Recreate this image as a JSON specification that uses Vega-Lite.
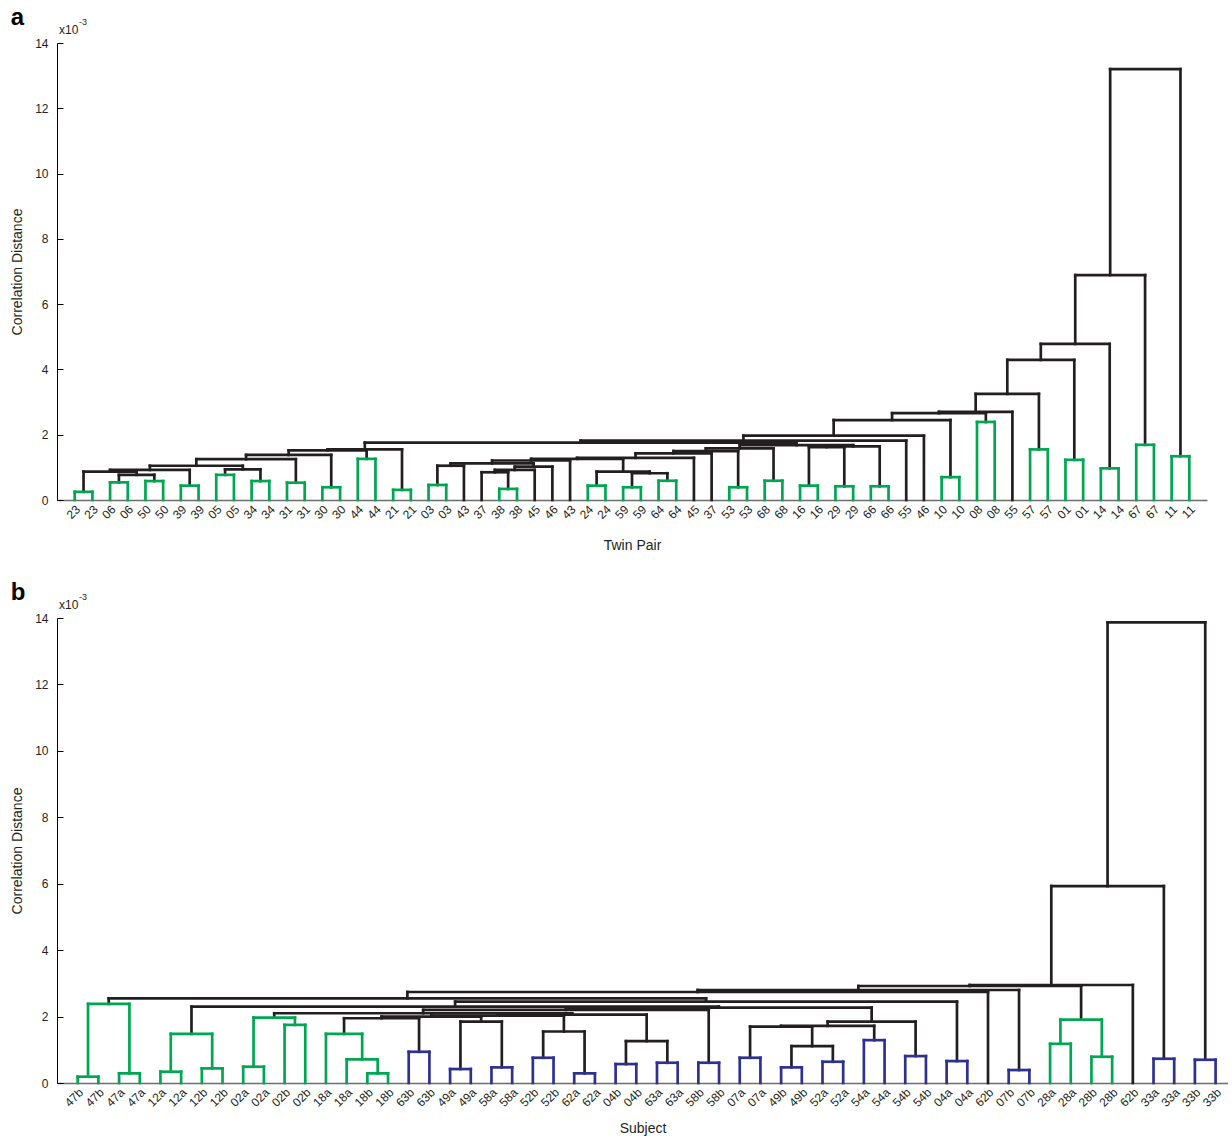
{
  "$schema": "https://vega.github.io/schema/vega-lite/v6.json",
  "background": "white",
  "padding": {"left": 10, "top": 6, "right": 0, "bottom": 0},
  "spacing": 28,
  "config": {
    "view": {"stroke": null},
    "font": "Liberation Sans",
    "title": {"font": "Liberation Sans"},
    "axis": {"labelFont": "Liberation Sans", "titleFont": "Liberation Sans", "labelColor": "#231F20", "titleColor": "#231F20", "titleFontWeight": "normal", "grid": false, "labelOverlap": false}
  },
  "vconcat": [
    {
      "title": {"text": "a", "anchor": "start", "frame": "bounds", "fontSize": 24, "fontWeight": "bold", "color": "#000000", "offset": -12},
      "width": 1150,
      "height": 457,
      "data": {"values": [
        {"xl":1,"yl":0,"xr":2,"yr":0,"h":0.25,"c":"g"},
        {"xl":3,"yl":0,"xr":4,"yr":0,"h":0.54,"c":"g"},
        {"xl":5,"yl":0,"xr":6,"yr":0,"h":0.58,"c":"g"},
        {"xl":7,"yl":0,"xr":8,"yr":0,"h":0.44,"c":"g"},
        {"xl":9,"yl":0,"xr":10,"yr":0,"h":0.77,"c":"g"},
        {"xl":11,"yl":0,"xr":12,"yr":0,"h":0.58,"c":"g"},
        {"xl":13,"yl":0,"xr":14,"yr":0,"h":0.53,"c":"g"},
        {"xl":15,"yl":0,"xr":16,"yr":0,"h":0.39,"c":"g"},
        {"xl":17,"yl":0,"xr":18,"yr":0,"h":1.26,"c":"g"},
        {"xl":19,"yl":0,"xr":20,"yr":0,"h":0.31,"c":"g"},
        {"xl":21,"yl":0,"xr":22,"yr":0,"h":0.46,"c":"g"},
        {"xl":25,"yl":0,"xr":26,"yr":0,"h":0.34,"c":"g"},
        {"xl":30,"yl":0,"xr":31,"yr":0,"h":0.44,"c":"g"},
        {"xl":32,"yl":0,"xr":33,"yr":0,"h":0.39,"c":"g"},
        {"xl":34,"yl":0,"xr":35,"yr":0,"h":0.59,"c":"g"},
        {"xl":38,"yl":0,"xr":39,"yr":0,"h":0.39,"c":"g"},
        {"xl":40,"yl":0,"xr":41,"yr":0,"h":0.59,"c":"g"},
        {"xl":42,"yl":0,"xr":43,"yr":0,"h":0.44,"c":"g"},
        {"xl":44,"yl":0,"xr":45,"yr":0,"h":0.42,"c":"g"},
        {"xl":46,"yl":0,"xr":47,"yr":0,"h":0.42,"c":"g"},
        {"xl":50,"yl":0,"xr":51,"yr":0,"h":0.70,"c":"g"},
        {"xl":52,"yl":0,"xr":53,"yr":0,"h":2.39,"c":"g"},
        {"xl":55,"yl":0,"xr":56,"yr":0,"h":1.55,"c":"g"},
        {"xl":57,"yl":0,"xr":58,"yr":0,"h":1.23,"c":"g"},
        {"xl":59,"yl":0,"xr":60,"yr":0,"h":0.97,"c":"g"},
        {"xl":61,"yl":0,"xr":62,"yr":0,"h":1.69,"c":"g"},
        {"xl":63,"yl":0,"xr":64,"yr":0,"h":1.34,"c":"g"},
        {"xl":3.5,"yl":0.54,"xr":5.5,"yr":0.58,"h":0.77,"c":"k"},
        {"xl":1.5,"yl":0.25,"xr":4.5,"yr":0.77,"h":0.87,"c":"k"},
        {"xl":3.0,"yl":0.87,"xr":7.5,"yr":0.44,"h":0.92,"c":"k"},
        {"xl":9.5,"yl":0.77,"xr":11.5,"yr":0.58,"h":0.94,"c":"k"},
        {"xl":5.25,"yl":0.92,"xr":10.5,"yr":0.94,"h":1.05,"c":"k"},
        {"xl":7.875,"yl":1.05,"xr":13.5,"yr":0.53,"h":1.25,"c":"k"},
        {"xl":10.6875,"yl":1.25,"xr":15.5,"yr":0.39,"h":1.38,"c":"k"},
        {"xl":13.094,"yl":1.38,"xr":17.5,"yr":1.26,"h":1.52,"c":"k"},
        {"xl":15.297,"yl":1.52,"xr":19.5,"yr":0.31,"h":1.55,"c":"k"},
        {"xl":21.5,"yl":0.46,"xr":23,"yr":0,"h":1.05,"c":"k"},
        {"xl":24,"yl":0,"xr":25.5,"yr":0.34,"h":0.85,"c":"k"},
        {"xl":24.75,"yl":0.85,"xr":27,"yr":0,"h":0.92,"c":"k"},
        {"xl":25.875,"yl":0.92,"xr":28,"yr":0,"h":1.02,"c":"k"},
        {"xl":22.25,"yl":1.05,"xr":26.9375,"yr":1.02,"h":1.12,"c":"k"},
        {"xl":24.594,"yl":1.12,"xr":29,"yr":0,"h":1.21,"c":"k"},
        {"xl":32.5,"yl":0.39,"xr":34.5,"yr":0.59,"h":0.82,"c":"k"},
        {"xl":30.5,"yl":0.44,"xr":33.5,"yr":0.82,"h":0.87,"c":"k"},
        {"xl":26.797,"yl":1.21,"xr":32.0,"yr":0.87,"h":1.26,"c":"k"},
        {"xl":29.398,"yl":1.26,"xr":36,"yr":0,"h":1.29,"c":"k"},
        {"xl":32.699,"yl":1.29,"xr":37,"yr":0,"h":1.43,"c":"k"},
        {"xl":34.85,"yl":1.43,"xr":38.5,"yr":0.39,"h":1.50,"c":"k"},
        {"xl":36.675,"yl":1.50,"xr":40.5,"yr":0.59,"h":1.58,"c":"k"},
        {"xl":42.5,"yl":0.44,"xr":44.5,"yr":0.42,"h":1.62,"c":"k"},
        {"xl":43.5,"yl":1.62,"xr":46.5,"yr":0.42,"h":1.64,"c":"k"},
        {"xl":38.587,"yl":1.58,"xr":45.0,"yr":1.64,"h":1.68,"c":"k"},
        {"xl":17.398,"yl":1.55,"xr":41.794,"yr":1.68,"h":1.76,"c":"k"},
        {"xl":29.596,"yl":1.76,"xr":48,"yr":0,"h":1.82,"c":"k"},
        {"xl":38.798,"yl":1.82,"xr":49,"yr":0,"h":1.97,"c":"k"},
        {"xl":43.899,"yl":1.97,"xr":50.5,"yr":0.70,"h":2.45,"c":"k"},
        {"xl":47.2,"yl":2.45,"xr":52.5,"yr":2.39,"h":2.66,"c":"k"},
        {"xl":49.85,"yl":2.66,"xr":54,"yr":0,"h":2.70,"c":"k"},
        {"xl":51.925,"yl":2.70,"xr":55.5,"yr":1.55,"h":3.25,"c":"k"},
        {"xl":53.7125,"yl":3.25,"xr":57.5,"yr":1.23,"h":4.29,"c":"k"},
        {"xl":55.606,"yl":4.29,"xr":59.5,"yr":0.97,"h":4.78,"c":"k"},
        {"xl":57.553,"yl":4.78,"xr":61.5,"yr":1.69,"h":6.89,"c":"k"},
        {"xl":59.527,"yl":6.89,"xr":63.5,"yr":1.34,"h":13.2,"c":"k"}
      ]},
      "layer": [
        {
          "mark": {"type": "rule", "strokeWidth": 2.7, "strokeCap": "square"},
          "encoding": {
            "x": {"field": "xl", "type": "quantitative", "title": "Twin Pair",
              "scale": {"domain": [0, 65], "nice": false, "zero": false},
              "axis": {"values": [1,2,3,4,5,6,7,8,9,10,11,12,13,14,15,16,17,18,19,20,21,22,23,24,25,26,27,28,29,30,31,32,33,34,35,36,37,38,39,40,41,42,43,44,45,46,47,48,49,50,51,52,53,54,55,56,57,58,59,60,61,62,63,64],
                "tickCount": 100,
                "labelExpr": "['23','23','06','06','50','50','39','39','05','05','34','34','31','31','30','30','44','44','21','21','03','03','43','37','38','38','45','46','43','24','24','59','59','64','64','45','37','53','53','68','68','16','16','29','29','66','66','55','46','10','10','08','08','55','57','57','01','01','14','14','67','67','11','11'][datum.value-1]",
                "labelAngle": -45, "labelAlign": "right", "labelBaseline": "middle", "labelPadding": 7, "labelOffset": 3, "labelFontSize": 12, "labelOverlap": false, "ticks": false, "domainColor": "#6d6d6d", "domainWidth": 1.5, "titleFontSize": 14, "titlePadding": 18}},
            "y": {"field": "yl", "type": "quantitative", "title": "Correlation Distance",
              "scale": {"domain": [0, 14], "nice": false},
              "axis": {"values": [0,2,4,6,8,10,12,14], "tickSize": -6, "tickColor": "#000000", "domainColor": "#000000", "labelFontSize": 12, "labelPadding": 15, "titleFontSize": 14, "titlePadding": 10, "labelOverlap": false}},
            "y2": {"field": "h"},
            "color": {"field": "c", "type": "nominal", "legend": null, "scale": {"domain": ["g", "b", "k"], "range": ["#00A651", "#2E3192", "#231F20"]}}
          }
        },
        {
          "mark": {"type": "rule", "strokeWidth": 2.7, "strokeCap": "square"},
          "encoding": {
            "x": {"field": "xr", "type": "quantitative", "title": "Twin Pair", "axis": {"labelOverlap": false}},
            "y": {"field": "yr", "type": "quantitative", "title": "Correlation Distance", "axis": {"labelOverlap": false}},
            "y2": {"field": "h"},
            "color": {"field": "c", "type": "nominal", "legend": null}
          }
        },
        {
          "mark": {"type": "rule", "strokeWidth": 2.7, "strokeCap": "square"},
          "encoding": {
            "x": {"field": "xl", "type": "quantitative", "title": "Twin Pair", "axis": {"labelOverlap": false}},
            "x2": {"field": "xr"},
            "y": {"field": "h", "type": "quantitative", "title": "Correlation Distance", "axis": {"labelOverlap": false}},
            "color": {"field": "c", "type": "nominal", "legend": null}
          }
        },
        {
          "data": {"values": [{"t": "x10"}]},
          "mark": {"type": "text", "align": "left", "baseline": "alphabetic", "dx": 2, "dy": -9, "fontSize": 12, "color": "#231F20"},
          "encoding": {"x": {"datum": 0, "type": "quantitative"}, "y": {"datum": 14, "type": "quantitative"}, "text": {"field": "t"}}
        },
        {
          "data": {"values": [{"t": "-3"}]},
          "mark": {"type": "text", "align": "left", "baseline": "alphabetic", "dx": 22, "dy": -18, "fontSize": 9, "color": "#231F20"},
          "encoding": {"x": {"datum": 0, "type": "quantitative"}, "y": {"datum": 14, "type": "quantitative"}, "text": {"field": "t"}}
        }
      ]
    },
    {
      "title": {"text": "b", "anchor": "start", "frame": "bounds", "fontSize": 24, "fontWeight": "bold", "color": "#000000", "offset": -12},
      "width": 1171,
      "height": 465,
      "data": {"values": [
        {"xl":1,"yl":0,"xr":2,"yr":0,"h":0.19,"c":"g"},
        {"xl":3,"yl":0,"xr":4,"yr":0,"h":0.29,"c":"g"},
        {"xl":1.5,"yl":0.19,"xr":3.5,"yr":0.29,"h":2.38,"c":"g"},
        {"xl":5,"yl":0,"xr":6,"yr":0,"h":0.34,"c":"g"},
        {"xl":7,"yl":0,"xr":8,"yr":0,"h":0.44,"c":"g"},
        {"xl":5.5,"yl":0.34,"xr":7.5,"yr":0.44,"h":1.48,"c":"g"},
        {"xl":9,"yl":0,"xr":10,"yr":0,"h":0.49,"c":"g"},
        {"xl":11,"yl":0,"xr":12,"yr":0,"h":1.75,"c":"g"},
        {"xl":9.5,"yl":0.49,"xr":11.5,"yr":1.75,"h":1.97,"c":"g"},
        {"xl":15,"yl":0,"xr":16,"yr":0,"h":0.29,"c":"g"},
        {"xl":14,"yl":0,"xr":15.5,"yr":0.29,"h":0.71,"c":"g"},
        {"xl":13,"yl":0,"xr":14.75,"yr":0.71,"h":1.48,"c":"g"},
        {"xl":48,"yl":0,"xr":49,"yr":0,"h":1.18,"c":"g"},
        {"xl":50,"yl":0,"xr":51,"yr":0,"h":0.79,"c":"g"},
        {"xl":48.5,"yl":1.18,"xr":50.5,"yr":0.79,"h":1.91,"c":"g"},
        {"xl":17,"yl":0,"xr":18,"yr":0,"h":0.94,"c":"b"},
        {"xl":19,"yl":0,"xr":20,"yr":0,"h":0.42,"c":"b"},
        {"xl":21,"yl":0,"xr":22,"yr":0,"h":0.47,"c":"b"},
        {"xl":23,"yl":0,"xr":24,"yr":0,"h":0.76,"c":"b"},
        {"xl":25,"yl":0,"xr":26,"yr":0,"h":0.29,"c":"b"},
        {"xl":27,"yl":0,"xr":28,"yr":0,"h":0.57,"c":"b"},
        {"xl":29,"yl":0,"xr":30,"yr":0,"h":0.61,"c":"b"},
        {"xl":31,"yl":0,"xr":32,"yr":0,"h":0.61,"c":"b"},
        {"xl":33,"yl":0,"xr":34,"yr":0,"h":0.76,"c":"b"},
        {"xl":35,"yl":0,"xr":36,"yr":0,"h":0.47,"c":"b"},
        {"xl":37,"yl":0,"xr":38,"yr":0,"h":0.64,"c":"b"},
        {"xl":39,"yl":0,"xr":40,"yr":0,"h":1.29,"c":"b"},
        {"xl":41,"yl":0,"xr":42,"yr":0,"h":0.81,"c":"b"},
        {"xl":43,"yl":0,"xr":44,"yr":0,"h":0.66,"c":"b"},
        {"xl":46,"yl":0,"xr":47,"yr":0,"h":0.39,"c":"b"},
        {"xl":53,"yl":0,"xr":54,"yr":0,"h":0.73,"c":"b"},
        {"xl":55,"yl":0,"xr":56,"yr":0,"h":0.70,"c":"b"},
        {"xl":19.5,"yl":0.42,"xr":21.5,"yr":0.47,"h":1.85,"c":"k"},
        {"xl":23.5,"yl":0.76,"xr":25.5,"yr":0.29,"h":1.55,"c":"k"},
        {"xl":27.5,"yl":0.57,"xr":29.5,"yr":0.61,"h":1.26,"c":"k"},
        {"xl":35.5,"yl":0.47,"xr":37.5,"yr":0.64,"h":1.11,"c":"k"},
        {"xl":33.5,"yl":0.76,"xr":36.5,"yr":1.11,"h":1.70,"c":"k"},
        {"xl":35.0,"yl":1.70,"xr":39.5,"yr":1.29,"h":1.72,"c":"k"},
        {"xl":37.25,"yl":1.72,"xr":41.5,"yr":0.81,"h":1.85,"c":"k"},
        {"xl":13.875,"yl":1.48,"xr":17.5,"yr":0.94,"h":1.95,"c":"k"},
        {"xl":15.6875,"yl":1.95,"xr":20.5,"yr":1.85,"h":2.00,"c":"k"},
        {"xl":18.094,"yl":2.00,"xr":24.5,"yr":1.55,"h":2.03,"c":"k"},
        {"xl":21.297,"yl":2.03,"xr":28.5,"yr":1.26,"h":2.06,"c":"k"},
        {"xl":10.5,"yl":1.97,"xr":24.898,"yr":2.06,"h":2.10,"c":"k"},
        {"xl":17.699,"yl":2.10,"xr":31.5,"yr":0.61,"h":2.20,"c":"k"},
        {"xl":24.6,"yl":2.20,"xr":39.375,"yr":1.85,"h":2.27,"c":"k"},
        {"xl":6.5,"yl":1.48,"xr":31.987,"yr":2.27,"h":2.30,"c":"k"},
        {"xl":19.244,"yl":2.30,"xr":43.5,"yr":0.66,"h":2.45,"c":"k"},
        {"xl":2.5,"yl":2.38,"xr":31.372,"yr":2.45,"h":2.55,"c":"k"},
        {"xl":16.936,"yl":2.55,"xr":45,"yr":0,"h":2.74,"c":"k"},
        {"xl":30.968,"yl":2.74,"xr":46.5,"yr":0.39,"h":2.80,"c":"k"},
        {"xl":38.734,"yl":2.80,"xr":49.5,"yr":1.91,"h":2.92,"c":"k"},
        {"xl":44.117,"yl":2.92,"xr":52,"yr":0,"h":2.95,"c":"k"},
        {"xl":48.059,"yl":2.95,"xr":53.5,"yr":0.73,"h":5.93,"c":"k"},
        {"xl":50.779,"yl":5.93,"xr":55.5,"yr":0.70,"h":13.87,"c":"k"}
      ]},
      "layer": [
        {
          "mark": {"type": "rule", "strokeWidth": 2.7, "strokeCap": "square"},
          "encoding": {
            "x": {"field": "xl", "type": "quantitative", "title": "Subject",
              "scale": {"domain": [0, 56.6], "nice": false, "zero": false},
              "axis": {"values": [1,2,3,4,5,6,7,8,9,10,11,12,13,14,15,16,17,18,19,20,21,22,23,24,25,26,27,28,29,30,31,32,33,34,35,36,37,38,39,40,41,42,43,44,45,46,47,48,49,50,51,52,53,54,55,56],
                "tickCount": 100,
                "labelExpr": "['47b','47b','47a','47a','12a','12a','12b','12b','02a','02a','02b','02b','18a','18a','18b','18b','63b','63b','49a','49a','58a','58a','52b','52b','62a','62a','04b','04b','63a','63a','58b','58b','07a','07a','49b','49b','52a','52a','54a','54a','54b','54b','04a','04a','62b','07b','07b','28a','28a','28b','28b','62b','33a','33a','33b','33b'][datum.value-1]",
                "labelAngle": -45, "labelAlign": "right", "labelBaseline": "middle", "labelPadding": 7, "labelOffset": 3, "labelFontSize": 12, "labelOverlap": false, "ticks": false, "domainColor": "#6d6d6d", "domainWidth": 1.5, "titleFontSize": 14, "titlePadding": 13}},
            "y": {"field": "yl", "type": "quantitative", "title": "Correlation Distance",
              "scale": {"domain": [0, 14], "nice": false},
              "axis": {"values": [0,2,4,6,8,10,12,14], "tickSize": -6, "tickColor": "#000000", "domainColor": "#000000", "labelFontSize": 12, "labelPadding": 15, "titleFontSize": 14, "titlePadding": 10, "labelOverlap": false}},
            "y2": {"field": "h"},
            "color": {"field": "c", "type": "nominal", "legend": null, "scale": {"domain": ["g", "b", "k"], "range": ["#00A651", "#2E3192", "#231F20"]}}
          }
        },
        {
          "mark": {"type": "rule", "strokeWidth": 2.7, "strokeCap": "square"},
          "encoding": {
            "x": {"field": "xr", "type": "quantitative", "title": "Subject", "axis": {"labelOverlap": false}},
            "y": {"field": "yr", "type": "quantitative", "title": "Correlation Distance", "axis": {"labelOverlap": false}},
            "y2": {"field": "h"},
            "color": {"field": "c", "type": "nominal", "legend": null}
          }
        },
        {
          "mark": {"type": "rule", "strokeWidth": 2.7, "strokeCap": "square"},
          "encoding": {
            "x": {"field": "xl", "type": "quantitative", "title": "Subject", "axis": {"labelOverlap": false}},
            "x2": {"field": "xr"},
            "y": {"field": "h", "type": "quantitative", "title": "Correlation Distance", "axis": {"labelOverlap": false}},
            "color": {"field": "c", "type": "nominal", "legend": null}
          }
        },
        {
          "data": {"values": [{"t": "x10"}]},
          "mark": {"type": "text", "align": "left", "baseline": "alphabetic", "dx": 2, "dy": -9, "fontSize": 12, "color": "#231F20"},
          "encoding": {"x": {"datum": 0, "type": "quantitative"}, "y": {"datum": 14, "type": "quantitative"}, "text": {"field": "t"}}
        },
        {
          "data": {"values": [{"t": "-3"}]},
          "mark": {"type": "text", "align": "left", "baseline": "alphabetic", "dx": 22, "dy": -18, "fontSize": 9, "color": "#231F20"},
          "encoding": {"x": {"datum": 0, "type": "quantitative"}, "y": {"datum": 14, "type": "quantitative"}, "text": {"field": "t"}}
        }
      ]
    }
  ]
}
